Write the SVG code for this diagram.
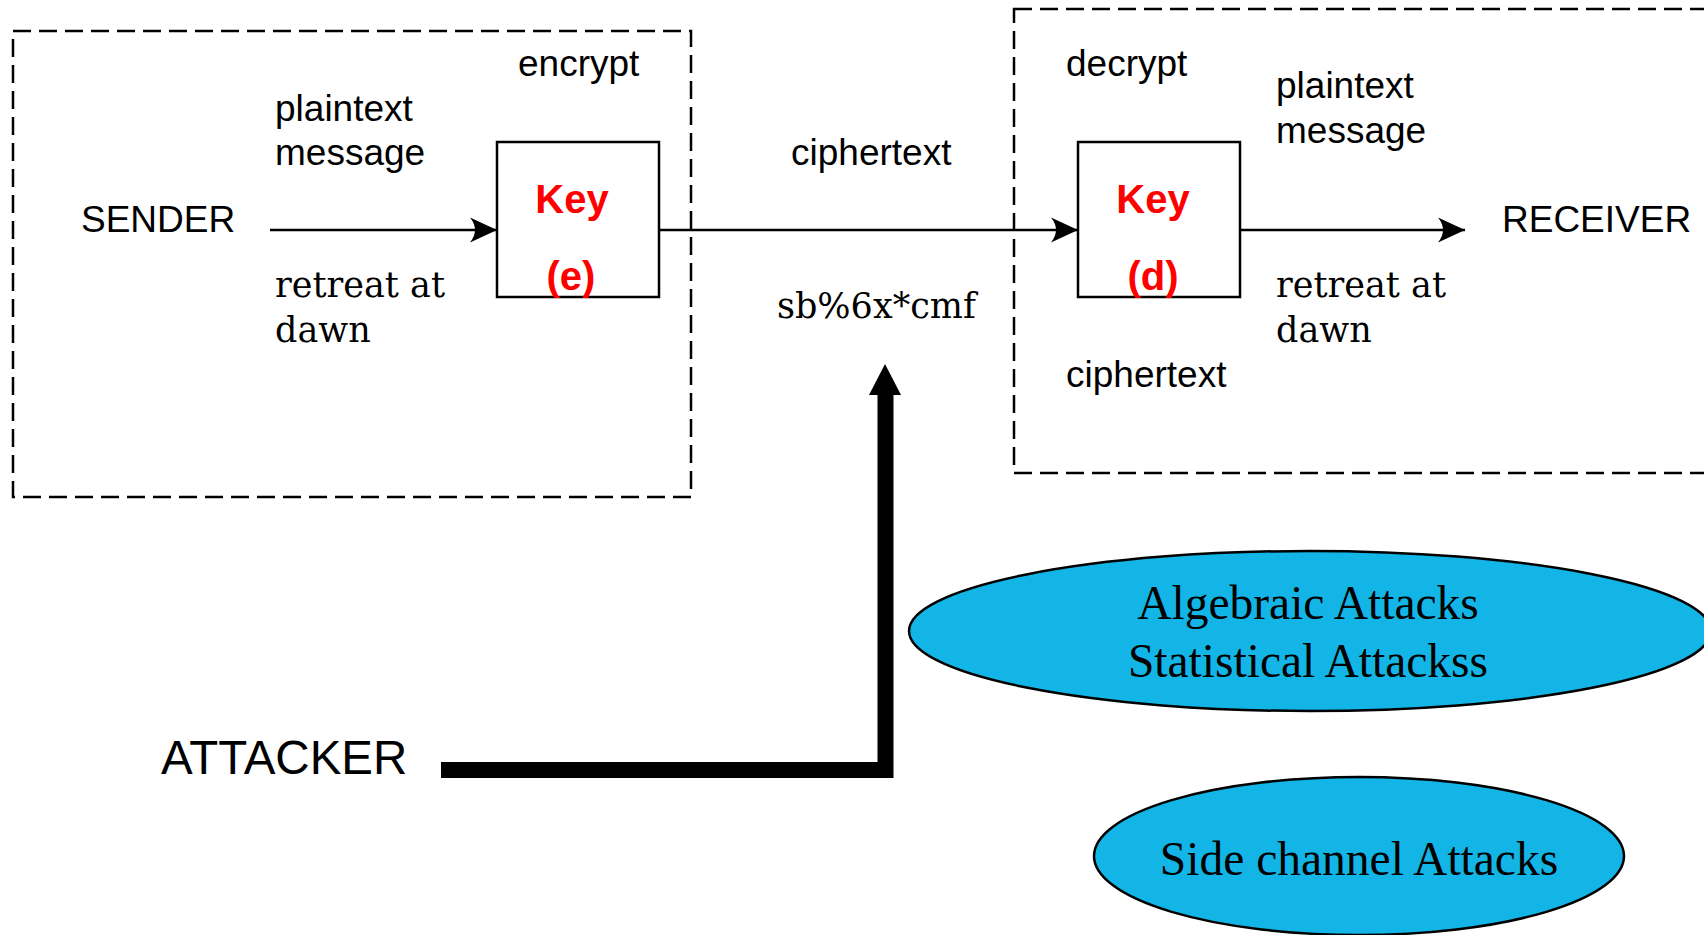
<svg xmlns="http://www.w3.org/2000/svg" width="1704" height="935" viewBox="0 0 1704 935">
  <style>
    .sans { font-family: "Liberation Sans", Arial, sans-serif; font-size: 37px; fill: #000; }
    .serif { font-family: "DejaVu Serif", "Liberation Serif", serif; font-size: 35px; fill: #000; }
    .key { font-family: "Liberation Sans", Arial, sans-serif; font-size: 40px; font-weight: bold; fill: #ff0000; text-anchor: middle; }
    .oval-text { font-family: "Liberation Serif", "Times New Roman", serif; font-size: 47.5px; fill: #000; text-anchor: middle; }
    .zone { fill: none; stroke: #000; stroke-width: 2.5; stroke-dasharray: 18 8; }
    .box { fill: none; stroke: #000; stroke-width: 2.5; }
    .flow { fill: none; stroke: #000; stroke-width: 2.5; }
    .oval { fill: #12b5e6; stroke: #000; stroke-width: 2.5; }
  </style>
  <defs>
    <marker id="head" markerUnits="userSpaceOnUse" markerWidth="30" markerHeight="30" viewBox="-28 -14 30 28" refX="0" refY="0" orient="auto">
      <path d="M0,0 L-27,-12.5 Q-17,0 -27,12.5 Z" fill="#000"/>
    </marker>
  </defs>

  <rect width="1704" height="935" fill="#ffffff"/>

  <!-- sender side -->
  <g id="sender-zone">
    <rect class="zone" x="13" y="31" width="678" height="466"/>
    <text class="sans" x="518" y="76">encrypt</text>
    <text class="sans" x="275" y="121">plaintext</text>
    <text class="sans" x="275" y="165">message</text>
    <text class="serif" x="275" y="297">retreat at</text>
    <text class="serif" x="275" y="342">dawn</text>
  </g>
  <g id="sender">
    <text class="sans" x="81" y="232">SENDER</text>
  </g>
  <g id="key-e">
    <rect class="box" x="497" y="142" width="162" height="155"/>
    <text class="key" x="572" y="213">Key</text>
    <text class="key" x="571" y="290">(e)</text>
  </g>

  <!-- channel -->
  <g id="channel">
    <text class="sans" x="791" y="165">ciphertext</text>
    <text class="serif" x="777" y="318">sb%6x*cmf</text>
  </g>

  <!-- receiver side -->
  <g id="receiver-zone">
    <rect class="zone" x="1014" y="9" width="700" height="464"/>
    <text class="sans" x="1066" y="76">decrypt</text>
    <text class="sans" x="1276" y="98">plaintext</text>
    <text class="sans" x="1276" y="143">message</text>
    <text class="serif" x="1276" y="297">retreat at</text>
    <text class="serif" x="1276" y="342">dawn</text>
    <text class="sans" x="1066" y="387">ciphertext</text>
  </g>
  <g id="key-d">
    <rect class="box" x="1078" y="142" width="162" height="155"/>
    <text class="key" x="1153" y="213">Key</text>
    <text class="key" x="1153" y="290">(d)</text>
  </g>
  <g id="receiver">
    <text class="sans" x="1502" y="232">RECEIVER</text>
  </g>

  <!-- attacker and attack classes -->
  <g id="attacker">
    <text class="sans" x="161" y="774" style="font-size:47.5px">ATTACKER</text>
  </g>
  <g id="algebraic-statistical">
    <ellipse class="oval" cx="1310" cy="631" rx="401" ry="80"/>
    <text class="oval-text" x="1308" y="619">Algebraic Attacks</text>
    <text class="oval-text" x="1308" y="677">Statistical Attackss</text>
  </g>
  <g id="side-channel">
    <ellipse class="oval" cx="1359" cy="856" rx="265" ry="79"/>
    <text class="oval-text" x="1359" y="875">Side channel Attacks</text>
  </g>

  <g id="connectors">
    <line class="flow" x1="270" y1="230" x2="497" y2="230" marker-end="url(#head)"/>
    <line class="flow" x1="659" y1="230" x2="1078" y2="230" marker-end="url(#head)"/>
    <line class="flow" x1="1240" y1="230" x2="1465" y2="230" marker-end="url(#head)"/>
    <path d="M441,770 H885.5 V393" fill="none" stroke="#000" stroke-width="16" stroke-linejoin="miter"/>
    <polygon points="885,364 901,395 869,395" fill="#000"/>
  </g>
</svg>
